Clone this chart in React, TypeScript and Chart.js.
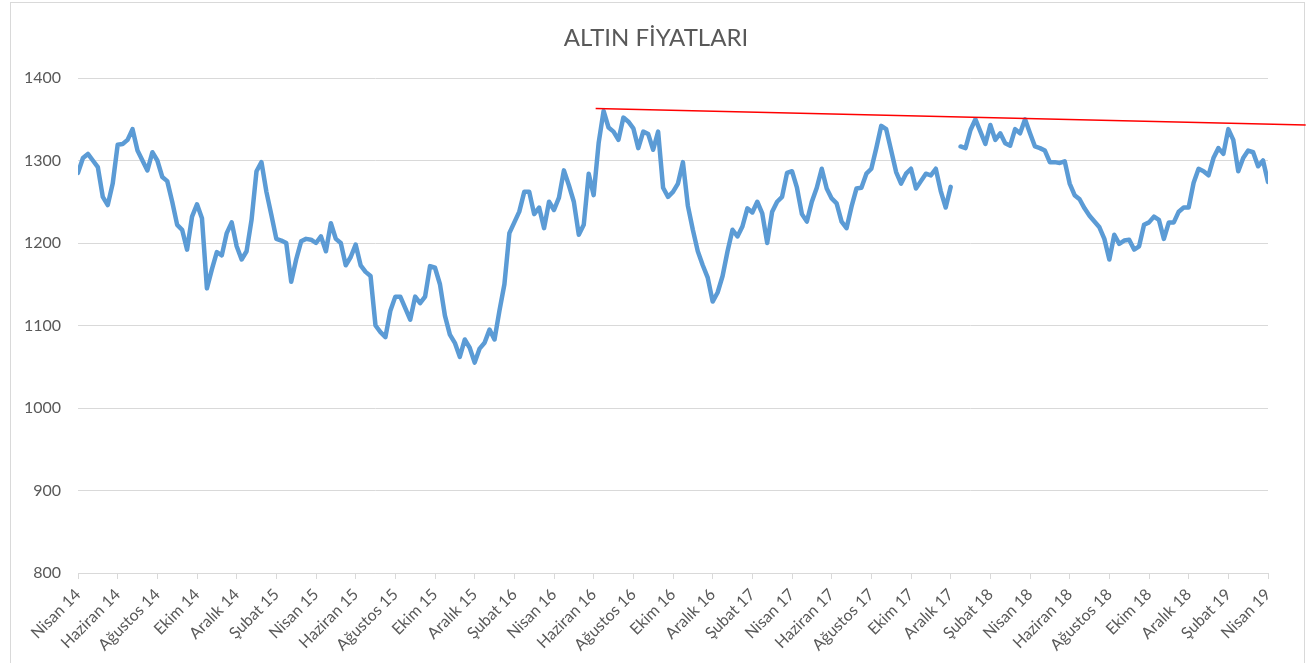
import React, { useEffect, useRef } from "react";
import { Chart, registerables } from "chart.js";

Chart.register(...registerables);

const TITLE = "ALTIN FİYATLARI";

const xTickLabels = [
  "Nisan 14", "Haziran 14", "Ağustos 14", "Ekim 14", "Aralık 14",
  "Şubat 15", "Nisan 15", "Haziran 15", "Ağustos 15", "Ekim 15", "Aralık 15",
  "Şubat 16", "Nisan 16", "Haziran 16", "Ağustos 16", "Ekim 16", "Aralık 16",
  "Şubat 17", "Nisan 17", "Haziran 17", "Ağustos 17", "Ekim 17", "Aralık 17",
  "Şubat 18", "Nisan 18", "Haziran 18", "Ağustos 18", "Ekim 18", "Aralık 18",
  "Şubat 19", "Nisan 19",
];
const monthsPerTick = 2;

// months between consecutive samples (≈ weekly), starting Nisan 14
const sampleStep = 0.25;

const goldPrices: (number | null)[] = [
  1285, 1303, 1308, 1300, 1292, 1256, 1246, 1272, 1319, 1320,
  1325, 1338, 1312, 1300, 1288, 1310, 1300, 1280, 1275, 1250,
  1222, 1216, 1192, 1232, 1247, 1230, 1145, 1168, 1189, 1185,
  1212, 1225, 1196, 1180, 1190, 1228, 1287, 1298, 1262, 1234,
  1205, 1203, 1200, 1153, 1180, 1202, 1205, 1204, 1200, 1208,
  1190, 1224, 1205, 1200, 1173, 1183, 1198, 1173, 1165, 1160,
  1100, 1092, 1086, 1118, 1135, 1135, 1121, 1107, 1135, 1127,
  1135, 1172, 1170, 1150, 1112, 1089, 1079, 1062, 1083, 1073,
  1055, 1072, 1079, 1095, 1083, 1118, 1150, 1212, 1225, 1238,
  1262, 1262, 1235, 1243, 1218, 1250, 1240, 1255, 1288, 1270,
  1250, 1210, 1222, 1284, 1258, 1321, 1360, 1340, 1335, 1325,
  1352, 1347, 1339, 1315, 1335, 1332, 1313, 1335, 1267, 1256,
  1262, 1272, 1298, 1245, 1216, 1190, 1173, 1158, 1129, 1140,
  1160, 1190, 1216, 1208, 1220, 1242, 1237, 1250, 1236, 1200,
  1238, 1250, 1256, 1285, 1287, 1267, 1235, 1226, 1250, 1267,
  1290, 1266, 1254, 1248, 1226, 1218, 1244, 1266, 1267, 1284,
  1290, 1315, 1342, 1338, 1312, 1286, 1272, 1284, 1290, 1266,
  1275, 1284, 1282, 1290, 1263, 1243, 1268, null, 1317, 1315,
  1337, 1350, 1335, 1320, 1343, 1325, 1333, 1321, 1318, 1338,
  1333, 1350, 1333, 1317, 1315, 1312, 1298, 1298, 1297, 1299,
  1272, 1258, 1253, 1242, 1233, 1226, 1219, 1205, 1180, 1210,
  1199, 1203, 1204, 1192, 1196, 1222, 1225, 1232, 1228, 1205,
  1225, 1225, 1238, 1243, 1243, 1273, 1290, 1287, 1282, 1303,
  1315, 1308, 1338, 1325, 1287, 1303, 1312, 1310, 1293, 1300,
  1274,
];

// red resistance (trend) line: month offsets from Nisan 14 and prices
const trendMonths = [26.1, 61.9];
const trendValues = [1363, 1343];

const yMin = 800;
const yMax = 1400;
const yStep = 100;

const TEXT_COLOR = "#595959";
const GRID_COLOR = "#d9d9d9";
const FONT = "Lato";

const framePlugin = {
  id: "frame",
  beforeDraw(chart: any) {
    const ctx = chart.ctx;
    ctx.save();
    ctx.fillStyle = "#ffffff";
    ctx.fillRect(0, 0, chart.width, chart.height);
    ctx.strokeStyle = GRID_COLOR;
    ctx.lineWidth = 1;
    ctx.strokeRect(10.5, 2.5, 1294, chart.height + 20);
    ctx.restore();
  },
  afterDraw(chart: any) {
    const ctx = chart.ctx;
    ctx.save();
    ctx.fillStyle = TEXT_COLOR;
    ctx.font = `24px ${FONT}`;
    ctx.textAlign = "center";
    ctx.textBaseline = "middle";
    ctx.fillText(TITLE, chart.width / 2, 38);
    ctx.restore();
  },
};

export default function App() {
  const canvasRef = useRef<HTMLCanvasElement | null>(null);

  useEffect(() => {
    const canvas = canvasRef.current;
    if (!canvas) return;

    const priceData = goldPrices.map((v, i) => ({ x: i * sampleStep, y: v }));
    const trendData = trendMonths.map((m, i) => ({ x: m, y: trendValues[i] }));

    const chart = new Chart(canvas, {
      type: "line",
      data: {
        datasets: [
          {
            label: "Trend",
            data: trendData,
            borderColor: "#ff0000",
            borderWidth: 1.5,
            pointRadius: 0,
            clip: false as any,
            order: 0,
          },
          {
            label: "Altın",
            data: priceData as any,
            borderColor: "#5b9bd5",
            borderWidth: 4.5,
            pointRadius: 0,
            spanGaps: false,
            tension: 0,
            borderJoinStyle: "round",
            borderCapStyle: "round",
            order: 1,
          },
        ],
      },
      options: {
        animation: false,
        responsive: false,
        maintainAspectRatio: false,
        layout: { padding: { left: 0, right: 44, top: 78, bottom: 0 } },
        plugins: {
          legend: { display: false },
          tooltip: { enabled: false },
          title: { display: false },
        },
        scales: {
          x: {
            type: "linear",
            min: 0,
            max: (xTickLabels.length - 1) * monthsPerTick,
            afterBuildTicks(scale: any) {
              scale.ticks = xTickLabels.map((_, i) => ({ value: i * monthsPerTick }));
            },
            afterFit(scale: any) {
              scale.height = 90;
              scale.paddingLeft = 0;
              scale.paddingRight = 0;
            },
            ticks: {
              autoSkip: false,
              minRotation: 45,
              maxRotation: 45,
              color: TEXT_COLOR,
              font: { family: FONT, size: 16 },
              padding: 6,
              callback: (v: any) => xTickLabels[Math.round(Number(v) / monthsPerTick)] ?? "",
            },
            grid: {
              drawOnChartArea: false,
              drawTicks: true,
              tickLength: 6,
              color: GRID_COLOR,
            },
            border: { display: true, color: GRID_COLOR },
          },
          y: {
            min: yMin,
            max: yMax,
            afterFit(scale: any) {
              scale.width = 78;
              scale.paddingTop = 0;
              scale.paddingBottom = 0;
            },
            ticks: {
              stepSize: yStep,
              color: TEXT_COLOR,
              font: { family: FONT, size: 16 },
              padding: 17,
              callback: (v: any) => String(v),
            },
            grid: { color: GRID_COLOR, drawTicks: false },
            border: { display: false },
          },
        },
      },
      plugins: [framePlugin],
    });

    return () => chart.destroy();
  }, []);

  return (
    <div style={{ position: "fixed", left: 0, top: 0, width: 1312, height: 663, background: "#fff" }}>
      <canvas ref={canvasRef} width={1312} height={663} style={{ display: "block" }} />
    </div>
  );
}
